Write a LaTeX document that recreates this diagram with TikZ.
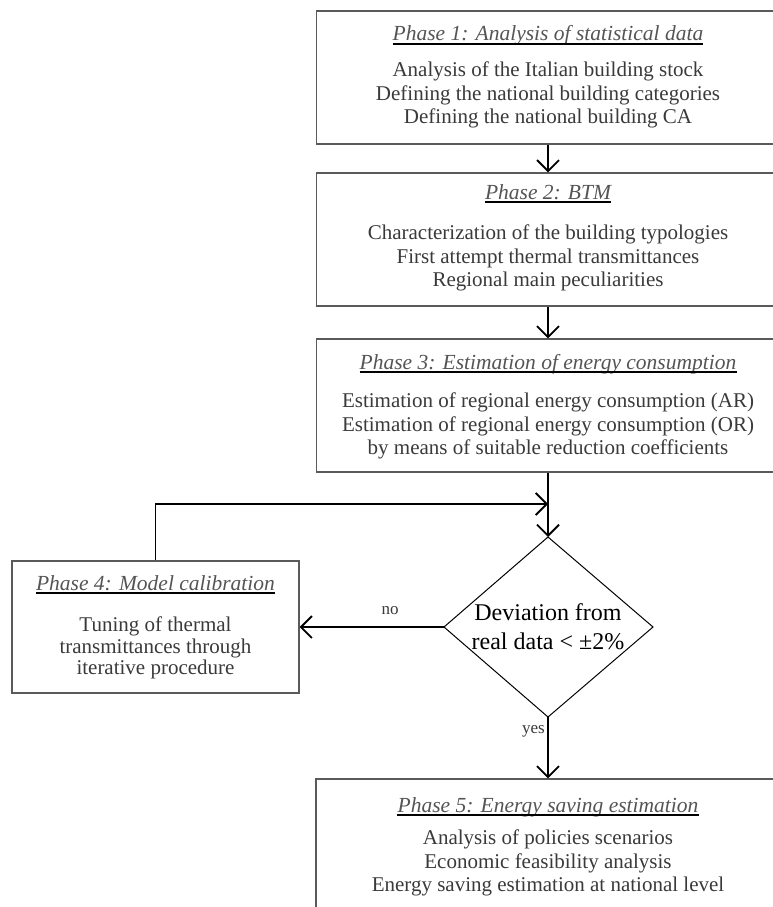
\documentclass[tikz,border=0pt]{standalone}
\usepackage{fontspec}
\setmainfont{Liberation Serif}
\usetikzlibrary{arrows.meta,calc}
\definecolor{bodytxt}{HTML}{3A3A3A}
\definecolor{titletxt}{HTML}{555555}
\definecolor{boxline}{HTML}{5A5A5A}
\tikzset{
  phasebox/.style={draw=boxline, line width=1.4pt, minimum width=463pt, minimum height=133pt, inner sep=0pt},
  titletext/.style={font=\fontsize{21.5}{24}\selectfont\itshape, text=titletxt, inner xsep=0pt, inner ysep=1pt},
  bodytext/.style={font=\fontsize{21}{23.5}\selectfont, text=bodytxt, align=center, inner sep=0pt},
  uline/.style={line width=1.3pt, black},
  conn/.style={line width=1.8pt, black, -{Straight Barb[length=11pt,width=22pt,line width=1.8pt]}},
  lbl/.style={font=\fontsize{17}{19}\selectfont, text=bodytxt, inner sep=1pt}
}
\begin{document}
\begin{tikzpicture}[x=1pt,y=-1pt]
\useasboundingbox (0,0) rectangle (773,907);
\clip (0,0) rectangle (773,907);
\fill[white] (0,0) rectangle (773,907);

% Phase 1
\node[phasebox] (p1) at (548,77.5) {};
\node[titletext, anchor=base] (t1) at (548,41) {Phase 1: Analysis of statistical data};
\draw[uline] ([yshift=-3pt]t1.base west) -- ([yshift=-3pt]t1.base east);
\node[bodytext] (b1) at (548,95) {Analysis of the Italian building stock\\Defining the national building categories\\Defining the national building CA};

% Phase 2
\node[phasebox] (p2) at (548,239.5) {};
\node[titletext, anchor=base] (t2) at (548,199) {Phase 2: BTM};
\draw[uline] ([yshift=-3pt]t2.base west) -- ([yshift=-3pt]t2.base east);
\node[bodytext] (b2) at (548,258) {Characterization of the building typologies\\First attempt thermal transmittances\\Regional main peculiarities};

% Phase 3
\node[phasebox] (p3) at (548,405.5) {};
\node[titletext, anchor=base] (t3) at (548,369) {Phase 3: Estimation of energy consumption};
\draw[uline] ([yshift=-3pt]t3.base west) -- ([yshift=-3pt]t3.base east);
\node[bodytext] (b3) at (548,426) {Estimation of regional energy consumption (AR)\\Estimation of regional energy consumption (OR)\\by means of suitable reduction coefficients};

% Phase 4
\node[phasebox, minimum width=287pt, minimum height=132pt] (p4) at (155.5,627) {};
\node[titletext, anchor=base] (t4) at (155.5,590) {Phase 4: Model calibration};
\draw[uline] ([yshift=-3pt]t4.base west) -- ([yshift=-3pt]t4.base east);
\node[bodytext, font=\fontsize{21}{21.5}\selectfont] (b4) at (155.5,648) {Tuning of thermal\\transmittances through\\iterative procedure};

% Phase 5
\node[phasebox, minimum width=464pt] (p5) at (548,845.5) {};
\node[titletext, anchor=base] (t5) at (548,812) {Phase 5: Energy saving estimation};
\draw[uline] ([yshift=-3pt]t5.base west) -- ([yshift=-3pt]t5.base east);
\node[bodytext] (b5) at (548,863) {Analysis of policies scenarios\\Economic feasibility analysis\\Energy saving estimation at national level};

% Decision diamond
\coordinate (dtop) at (548,537);
\coordinate (dright) at (653,627);
\coordinate (dbottom) at (548,717);
\coordinate (dleft) at (444,627);
\draw[line width=1pt, black] (dtop) -- (dright) -- (dbottom) -- (dleft) -- cycle;
\node[font=\fontsize{24}{29}\selectfont, align=center, inner sep=0pt] (dt) at (548,627) {Deviation from\\real data < ±2\%};

% merge point
\coordinate (m) at (548,504);

% connectors
\draw[conn] (p1.south) -- (p2.north);
\draw[conn] (p2.south) -- (p3.north);
\draw[conn] (p3.south) -- (dtop);
\draw[conn] (p4.north) |- (m);
\draw[conn] (dleft) -- (p4.east);
\draw[conn] (dbottom) -- (p5.north);

% labels
\node[lbl] (no) at (390,611) {no};
\node[lbl, anchor=east] (yes) at (546,731) {yes};
\end{tikzpicture}
\end{document}
